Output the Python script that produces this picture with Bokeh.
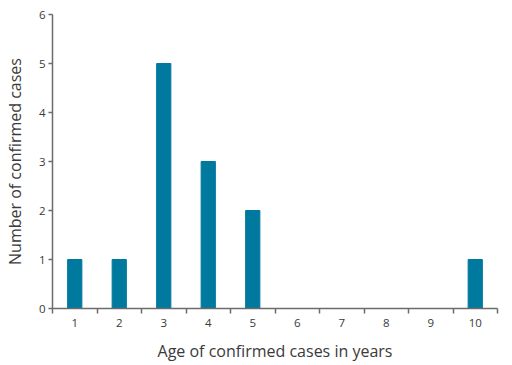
from bokeh.plotting import figure
from bokeh.models import FixedTicker, Range1d
from bokeh.embed import file_html
from bokeh.resources import INLINE

ages = [1, 2, 3, 4, 5, 6, 7, 8, 9, 10]
cases = [1, 1, 5, 3, 2, 0, 0, 0, 0, 1]
y_ticks = [0, 1, 2, 3, 4, 5, 6]
x_bounds = [0.5, 1.5, 2.5, 3.5, 4.5, 5.5, 6.5, 7.5, 8.5, 9.5, 10.5]

p = figure(width=505, height=364, output_backend="svg", toolbar_location=None,
           x_range=Range1d(0.5, 10.5), y_range=Range1d(0, 6),
           min_border_left=52, min_border_right=8, min_border_top=14, min_border_bottom=50)

p.vbar(x=ages, top=cases, width=0.32, color="#00799f")

p.outline_line_color = None
p.grid.grid_line_color = None
p.background_fill_color = "white"

font = "Open Sans"
ax_col = "#6b6b6b"
txt_col = "#3a3a3a"

xa = p.xaxis[0]
xa.ticker = FixedTicker(ticks=ages, minor_ticks=x_bounds)
xa.major_tick_out = 0
xa.major_tick_in = 0
xa.minor_tick_out = 5
xa.minor_tick_in = 0
xa.minor_tick_line_color = ax_col
xa.axis_line_color = ax_col
xa.axis_line_width = 1.5
xa.minor_tick_line_width = 1.5
xa.major_label_standoff = 5
xa.major_label_text_font = font
xa.major_label_text_font_size = "11.5px"
xa.major_label_text_color = txt_col
xa.axis_label = "Age of confirmed cases in years"
xa.axis_label_text_font = font
xa.axis_label_text_font_size = "16px"
xa.axis_label_text_font_style = "normal"
xa.axis_label_text_color = txt_col
xa.axis_label_standoff = 10

ya = p.yaxis[0]
ya.ticker = FixedTicker(ticks=y_ticks)
ya.major_tick_out = 4
ya.major_tick_in = 0
ya.minor_tick_out = 0
ya.minor_tick_in = 0
ya.major_tick_line_color = ax_col
ya.axis_line_color = ax_col
ya.axis_line_width = 1.5
ya.major_tick_line_width = 1.5
ya.major_label_standoff = 3
ya.major_label_text_font = font
ya.major_label_text_font_size = "11.5px"
ya.major_label_text_color = txt_col
ya.axis_label = "Number of confirmed cases"
ya.axis_label_text_font = font
ya.axis_label_text_font_size = "16px"
ya.axis_label_text_font_style = "normal"
ya.axis_label_text_color = txt_col
ya.axis_label_standoff = 10

open("out.html", "w").write(file_html(p, INLINE))
